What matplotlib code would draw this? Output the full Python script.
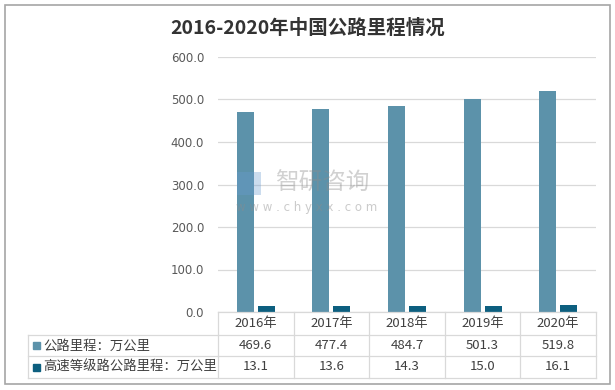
import matplotlib
matplotlib.use("Agg")
import matplotlib.pyplot as plt
from matplotlib.patches import Rectangle
from matplotlib.transforms import blended_transform_factory

plt.rcParams["font.family"] = ["Noto Sans CJK SC", "DejaVu Sans"]

years = ["2016年", "2017年", "2018年", "2019年", "2020年"]
road_km = [469.6, 477.4, 484.7, 501.3, 519.8]
highway_km = [13.1, 13.6, 14.3, 15.0, 16.1]
series_names = ["公路里程：万公里", "高速等级路公路里程：万公里"]
colors = ["#5C92AA", "#0D5F7F"]

W, H = 615, 390
fig = plt.figure(figsize=(W / 100, H / 100), dpi=100)

def fx(px):
    return px / W

def fy(py):
    return 1 - py / H

# outer frame
fig.patches.append(Rectangle((fx(5), fy(384)), fx(605), 379 / H, transform=fig.transFigure,
                             fill=False, edgecolor="#A6A6A6", linewidth=1.2))

fig.text(fx(308), fy(28), "2016-2020年中国公路里程情况", ha="center", va="center",
         fontsize=14, fontweight="bold", color="#333333")

ax_l, ax_r, ax_t, ax_b = 218, 596, 57, 312
ax = fig.add_axes([fx(ax_l), fy(ax_b), fx(ax_r - ax_l), (ax_b - ax_t) / H])

x = list(range(len(years)))
bw = 0.225
off = 0.139
ax.bar([i - off for i in x], road_km, width=bw, color=colors[0], zorder=3)
ax.bar([i + off for i in x], highway_km, width=bw, color=colors[1], zorder=3)

ax.set_xlim(-0.5, len(years) - 0.5)
ax.set_ylim(0, 600)
ax.set_yticks(range(0, 601, 100))
ax.set_yticklabels([f"{v:.1f}" for v in range(0, 601, 100)], fontsize=8.5, color="#595959",
                   family=["DejaVu Sans"])
ax.tick_params(axis="y", length=0, pad=10)
ax.set_xticks([])
ax.grid(axis="y", color="#D9D9D9", linewidth=0.9, zorder=0)
for s in ax.spines.values():
    s.set_visible(False)

# watermark (logo block + name + url)
ax.add_patch(Rectangle((0.05, 0.46), 0.065, 0.09, transform=ax.transAxes,
                       color="#6A9BD1", alpha=0.35, zorder=4, lw=0))
ax.text(0.275, 0.505, "智研咨询", transform=ax.transAxes, ha="center", va="center",
        fontsize=17, color="#8C8C8C", alpha=0.4, zorder=4)
ax.text(0.235, 0.41, "w w w . c h y x x . c o m", transform=ax.transAxes, ha="center",
        va="center", fontsize=8.5, color="#8C8C8C", alpha=0.45, zorder=4, family=["DejaVu Sans"])

# data table below the axes
tr = blended_transform_factory(ax.transData, fig.transFigure)
line_c = "#D9D9D9"
tab_l = 28
rows_y = [312, 335, 356, 378]
col_edges = [ax_l + i * (ax_r - ax_l) / len(years) for i in range(len(years) + 1)]

fig.add_artist(plt.Line2D([fx(ax_l), fx(ax_r)], [fy(rows_y[0])] * 2, color=line_c, lw=0.9))
for ry in rows_y[1:]:
    fig.add_artist(plt.Line2D([fx(tab_l), fx(ax_r)], [fy(ry)] * 2, color=line_c, lw=0.9))
for cx in col_edges:
    fig.add_artist(plt.Line2D([fx(cx)] * 2, [fy(rows_y[0]), fy(rows_y[-1])], color=line_c, lw=0.9))
fig.add_artist(plt.Line2D([fx(tab_l)] * 2, [fy(rows_y[1]), fy(rows_y[-1])], color=line_c, lw=0.9))

for i, yr in enumerate(years):
    fig.text(i, fy((rows_y[0] + rows_y[1]) / 2), yr, transform=tr, ha="center", va="center",
             fontsize=9.5, color="#404040")
for r, vals in enumerate([road_km, highway_km]):
    cy = fy((rows_y[r + 1] + rows_y[r + 2]) / 2)
    for i, v in enumerate(vals):
        fig.text(i, cy, f"{v:.1f}", transform=tr, ha="center", va="center",
                 fontsize=9.5, color="#404040")
    fig.patches.append(Rectangle((fx(33), cy - 3.5 / H), fx(7), 7 / H, transform=fig.transFigure,
                                 color=colors[r]))
    fig.text(fx(43), cy, series_names[r], ha="left", va="center", fontsize=9.6, color="#404040")

fig.savefig("out.png", dpi=100)
